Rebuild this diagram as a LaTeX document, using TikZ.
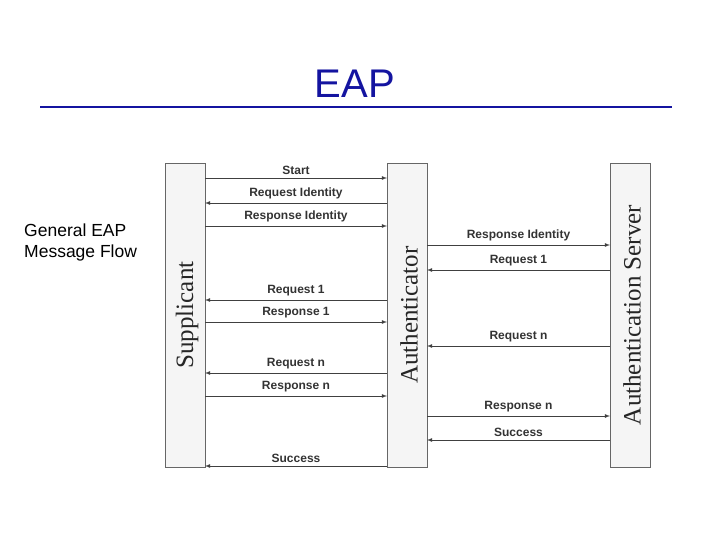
\documentclass[tikz,border=0pt]{standalone}
\usepackage{fontspec}
\setmainfont{Liberation Sans}
\newfontfamily\serf{Liberation Serif}
\definecolor{eapblue}{RGB}{20,20,160}
\begin{document}
\begin{tikzpicture}[x=1pt,y=-1pt,
 bar/.style={draw=black!60,fill=black!4,minimum width=40pt,minimum height=304pt,inner sep=0pt},
 msg/.style={-latex,black!75,line width=0.8pt},
 lab/.style={font=\fontsize{12}{13}\selectfont\bfseries,text=black!80,above=0pt,midway},
 bl/.style={font=\serf\fontsize{25}{27}\selectfont,rotate=90,text=black!85}]
\useasboundingbox (0,0) rectangle (720,540);
\node[font=\fontsize{40}{44}\selectfont,text=eapblue] (t) at (355,84) {EAP};
\coordinate (l1) at (40,107); \coordinate (l2) at (672,107);
\draw[line width=2.5pt,eapblue] (l1) -- (l2);
\node[align=left,anchor=west,font=\fontsize{17.5}{21}\selectfont,inner sep=0pt] (g) at (24,242) {General EAP\\Message Flow};
\node[bar] (s) at (185,315) {}; \node[bl] at (187,315) {Supplicant};
\node[bar] (a) at (407,315) {}; \node[bl] at (409,315) {Authenticator};
\node[bar] (v) at (630,315) {}; \node[bl] at (632,315) {Authentication Server};
\foreach \y/\t/\d in {178/Start/r,203/Request Identity/l,226/Response Identity/r,300/Request 1/l,322/Response 1/r,373/Request n/l,396/Response n/r,466/Success/l}{
 \coordinate (p) at (205,\y); \coordinate (q) at (387,\y);
 \if\d r \draw[msg] (p) -- node[lab]{\t} (q); \else \draw[msg] (q) -- node[lab]{\t} (p); \fi}
\foreach \y/\t/\d in {245/Response Identity/r,270/Request 1/l,346/Request n/l,416/Response n/r,440/Success/l}{
 \coordinate (p) at (427,\y); \coordinate (q) at (610,\y);
 \if\d r \draw[msg] (p) -- node[lab]{\t} (q); \else \draw[msg] (q) -- node[lab]{\t} (p); \fi}
\end{tikzpicture}
\end{document}
